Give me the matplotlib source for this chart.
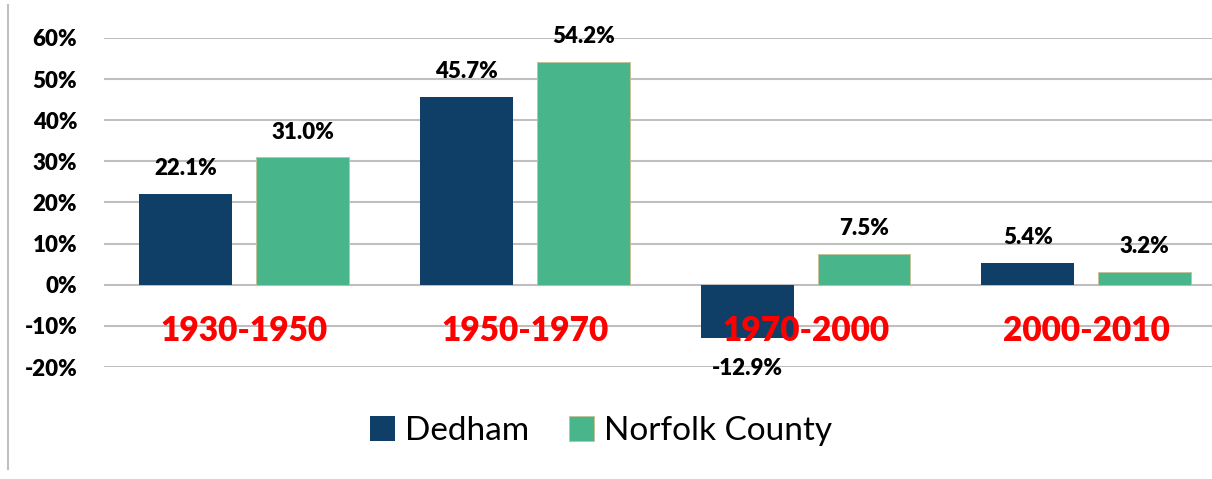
import matplotlib
matplotlib.use('Agg')
import matplotlib.pyplot as plt
from matplotlib.lines import Line2D
import numpy as np

# 数据
periods = ['1930-1950', '1950-1970', '1970-2000', '2000-2010']
dedham = [22.1, 45.7, -12.9, 5.4]
norfolk = [31.0, 54.2, 7.5, 3.2]
y_ticks = [-20, -10, 0, 10, 20, 30, 40, 50, 60]

plt.rcParams['font.family'] = ['Lato', 'DejaVu Sans']

fig = plt.figure(figsize=(12.12, 4.79), dpi=100)
# 轴的右边超出画布一点，和原图一样被裁掉
ax = fig.add_axes([0.0856, 0.2338, 0.9265, 0.6869])

x = np.arange(len(periods))
w = 0.331
off = 0.208
b1 = ax.bar(x - off, dedham, w, color='#0F3F66', label='Dedham', zorder=3)
b2 = ax.bar(x + off, norfolk, w, color='#48B58A', edgecolor='#C9BE94',
            linewidth=0.6, label='Norfolk County', zorder=3)

# 数据标签
for bars in (b1, b2):
    for r in bars:
        v = r.get_height()
        cx = r.get_x() + r.get_width() / 2
        dy = 18 if v >= 0 else -22
        ax.annotate(f'{v:.1f}%', (cx, v), xytext=(0, dy), textcoords='offset points',
                    ha='center', va='center', fontsize=16, fontweight='heavy', zorder=4)

# 红色的时期标签
for i, p in enumerate(periods):
    ax.text(i, -11.2, p, ha='center', va='center', color='#FF0000',
            fontsize=24, fontweight='heavy', zorder=5)

ax.set_xlim(-0.5, len(periods) - 0.5)
ax.set_ylim(-20, 60)
ax.set_yticks(y_ticks)
ax.set_yticklabels([f'{t}%' for t in y_ticks], fontsize=16, fontweight='heavy')
ax.tick_params(axis='y', length=0, pad=19)
ax.set_xticks([])
ax.grid(axis='y', color='#BFBFBF', linewidth=1.5, zorder=0)
for s in ax.spines.values():
    s.set_visible(False)

fig.legend(loc='center', bbox_to_anchor=(0.496, 0.1), ncol=2, frameon=False,
           fontsize=24, handlelength=0.75, handleheight=0.8, handletextpad=0.3,
           columnspacing=1.2)

fig.add_artist(Line2D([0.0066, 0.0066], [0.02, 0.99], color='#BFBFBF', linewidth=1.5))

fig.savefig('out.png', dpi=100)
